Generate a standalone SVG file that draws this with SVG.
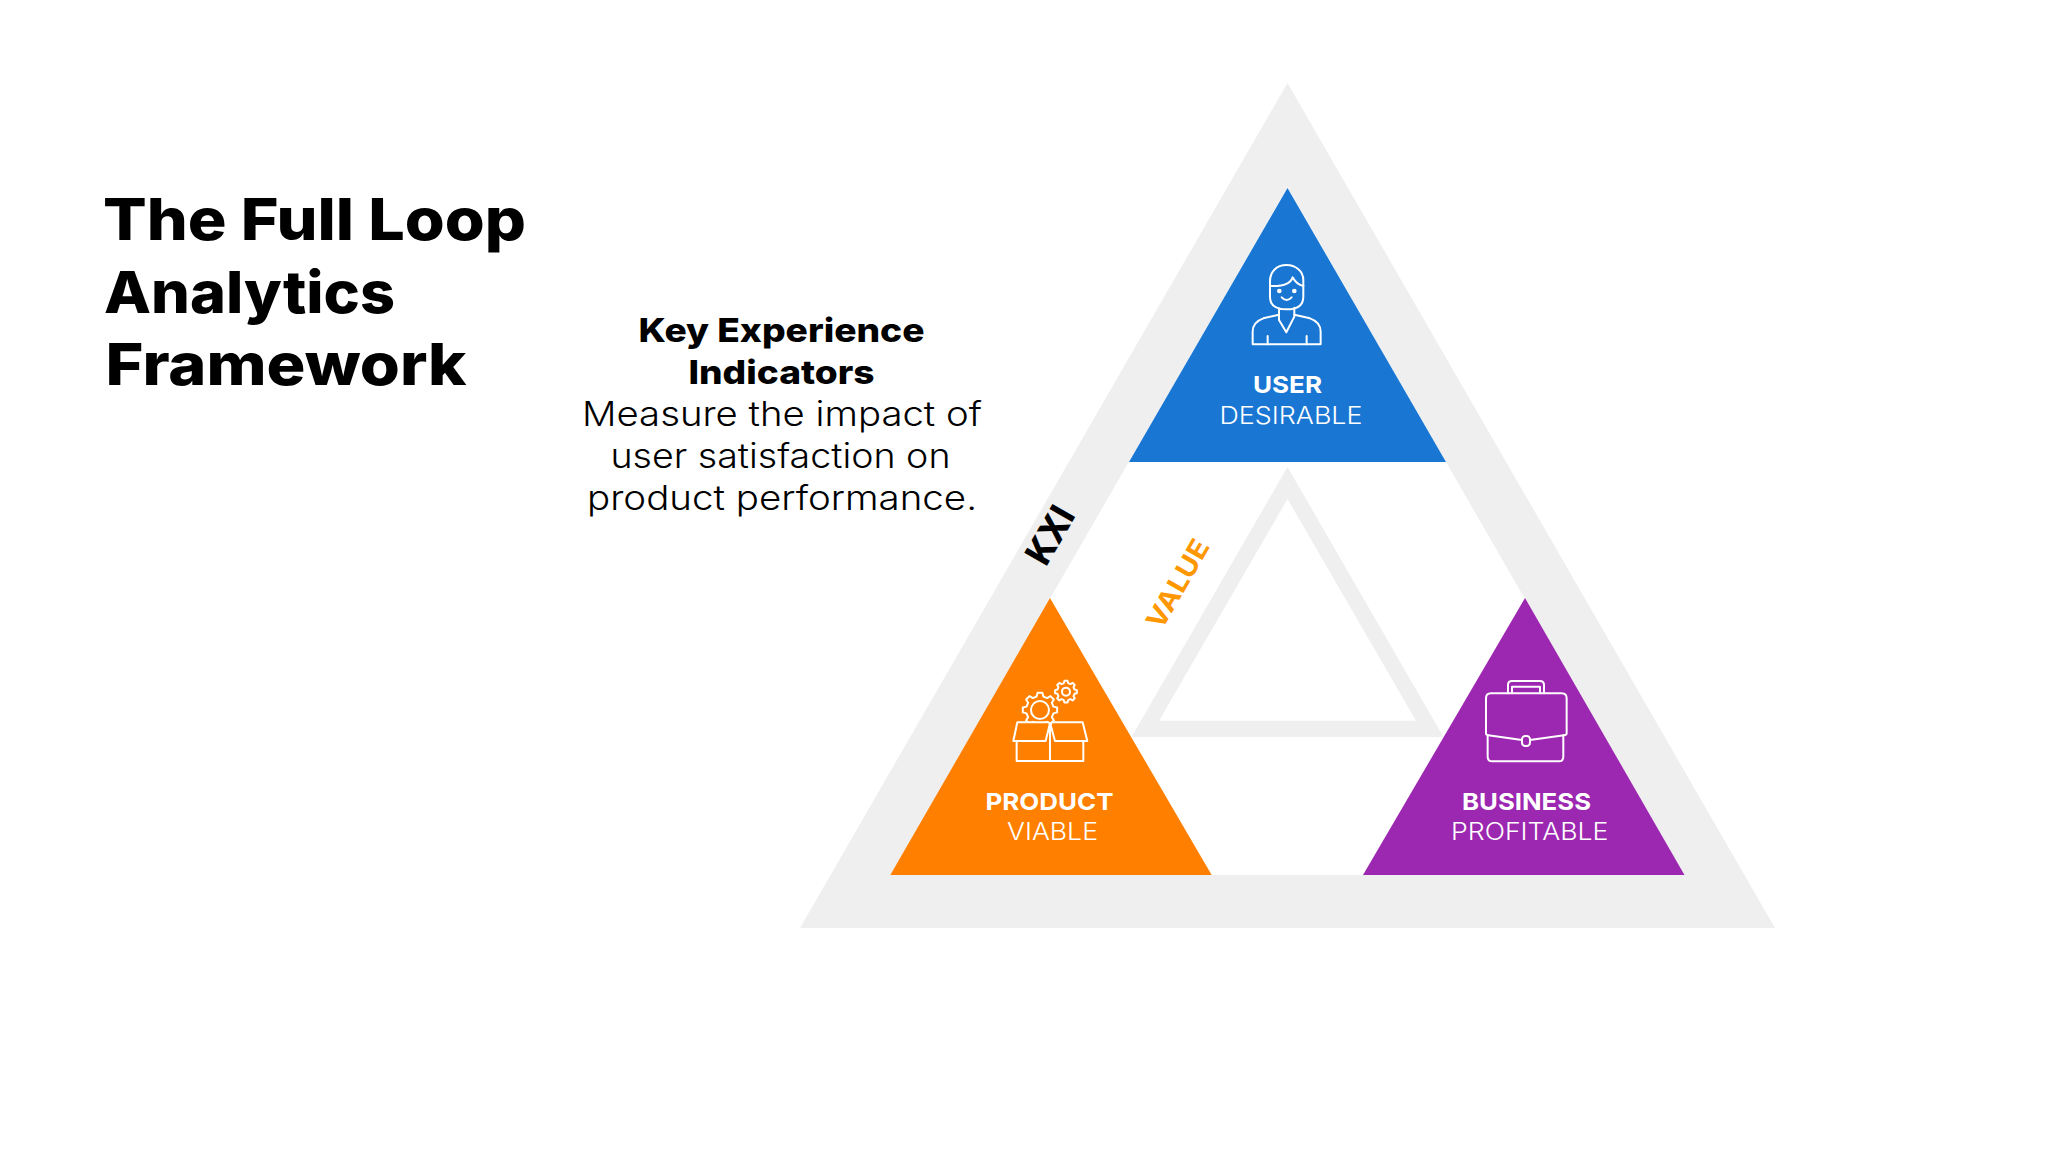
<svg xmlns="http://www.w3.org/2000/svg" width="2048" height="1152" viewBox="0 0 2048 1152">
<style>
text{font-family:"Inter","Open Sans","Liberation Sans",sans-serif;}
.h{font-weight:800;fill:#000;font-size:58px}
.b{font-weight:800;fill:#000;font-size:33px}
.r{font-weight:300;fill:#000;font-size:34px}
.lb{font-weight:700;fill:#fff;font-size:23.500px}
.lr{font-weight:300;fill:#fff;font-size:23.500px}
.ic{fill:none;stroke:#fff;stroke-width:6;stroke-linejoin:round;stroke-linecap:round}
</style>
<defs>
<polygon id="gear" points=".776,-.194 .99,-.139 .99,.139 .776,.194 .686,.412 .799,.602 .602,.799 .412,.686 .194,.776 .139,.99 -.139,.99 -.194,.776 -.412,.686 -.602,.799 -.799,.602 -.686,.412 -.776,.194 -.99,.139 -.99,-.139 -.776,-.194 -.686,-.412 -.799,-.602 -.602,-.799 -.412,-.686 -.194,-.776 -.139,-.99 .139,-.99 .194,-.776 .412,-.686 .602,-.799 .799,-.602 .686,-.412"/>
</defs>
<rect width="2048" height="1152" fill="#fff"/>
<g id="title">
<text class="h" x="103" y="240" textLength="423" lengthAdjust="spacingAndGlyphs">The Full Loop</text>
<text class="h" x="104" y="312.7" textLength="291" lengthAdjust="spacingAndGlyphs">Analytics</text>
<text class="h" x="105.500" y="385" textLength="361" lengthAdjust="spacingAndGlyphs">Framework</text>
</g>
<g id="description">
<text class="b" x="638.500" y="341.7" textLength="286" lengthAdjust="spacingAndGlyphs">Key Experience</text>
<text class="b" x="688.500" y="384" textLength="186" lengthAdjust="spacingAndGlyphs">Indicators</text>
<text class="r" x="582" y="426" textLength="400" lengthAdjust="spacingAndGlyphs">Measure the impact of</text>
<text class="r" x="610.500" y="467.7" textLength="340" lengthAdjust="spacingAndGlyphs">user satisfaction on</text>
<text class="r" x="587" y="510" textLength="390" lengthAdjust="spacingAndGlyphs">product performance.</text>
</g>
<g id="kxi-frame">
<path d="M1287.5 83L1775 928H800Z" fill="#efeff0"/>
<path d="M1287.5 187L1684 875H890.5Z" fill="#fff"/>
</g>
<g id="value-frame">
<path fill-rule="evenodd" d="M1287.5 467L1443.5 737H1131.5ZM1287.5 499L1159 720.7H1416Z" fill="#efeff0"/>
</g>
<text id="kxi-label" transform="translate(1046,567.500) rotate(-60)" font-size="36" font-weight="800" fill="#000" textLength="60" lengthAdjust="spacingAndGlyphs">KXI</text>
<text id="value-label" transform="translate(1161.500,631) rotate(-60)" font-size="27" font-weight="700" fill="#ff9800" textLength="98" lengthAdjust="spacingAndGlyphs">VALUE</text>
<g id="user">
<path d="M1287.5 188L1446 462H1129Z" fill="#1976d2"/>
<g transform="translate(1100,180) scale(.3333)" class="ic">
<path d="M510 310V350C510 380 535 388 560 388C585 388 610 380 610 350V300C610 272 585 255 560 255C530 255 508 275 510 310Z"/>
<path d="M510 318C545 320 570 315 578 292C585 305 595 315 610 318"/>
<circle cx="538" cy="333" r="4" fill="#fff"/><circle cx="583" cy="333" r="4" fill="#fff"/>
<path d="M545 352Q560 368 575 352"/>
<path d="M537 385V420L559 457L583 410V383"/>
<path d="M537 404L490 415C470 422 458 435 458 455V493H662V455C662 435 650 422 630 415L583 404"/>
<path d="M503 468V493M620 468V493"/>
</g>
<text class="lb" x="1253" y="393.3" textLength="69" lengthAdjust="spacingAndGlyphs">USER</text>
<text class="lr" x="1219.500" y="424" textLength="143" lengthAdjust="spacingAndGlyphs">DESIRABLE</text>
</g>
<g id="product">
<path d="M1050 598L1211.7 875H890.3Z" fill="#ff8000"/>
<g transform="translate(880,590) scale(.3333)" class="ic">
<use href="#gear" transform="translate(480,360) scale(52)" stroke-width=".115"/>
<circle cx="480" cy="360" r="27"/>
<use href="#gear" transform="translate(558,305) scale(33)" stroke-width=".18"/>
<circle cx="558" cy="305" r="12"/>
<path d="M410 453V513H610V453M510 405V513"/>
<path d="M412 397H505L510 400L497 453H400Z" fill="#ff8000"/>
<path d="M515 397H608L622 453H525L512 405Z" fill="#ff8000"/>
</g>
<text class="lb" x="985.500" y="810" textLength="128" lengthAdjust="spacingAndGlyphs">PRODUCT</text>
<text class="lr" x="1007" y="840" textLength="91" lengthAdjust="spacingAndGlyphs">VIABLE</text>
</g>
<g id="business">
<path d="M1525 598L1684.5 875H1363Z" fill="#9c27b0"/>
<g transform="translate(1360,590) scale(.3333)" class="ic">
<path d="M486 450L385 436Q378 435 378 430V325Q378 310 393 310H605Q620 310 620 325V430Q620 435 612 436L510 450"/>
<path d="M383 436V500Q383 514 397 514H597Q610 514 610 500V436"/>
<rect x="486" y="438" width="24" height="30" rx="10"/>
<path d="M444 310V285Q444 273 456 273H540Q552 273 552 285V310M456 310V290H540V310"/>
</g>
<text class="lb" x="1462" y="810" textLength="129" lengthAdjust="spacingAndGlyphs">BUSINESS</text>
<text class="lr" x="1451" y="840" textLength="157.500" lengthAdjust="spacingAndGlyphs">PROFITABLE</text>
</g>
</svg>
